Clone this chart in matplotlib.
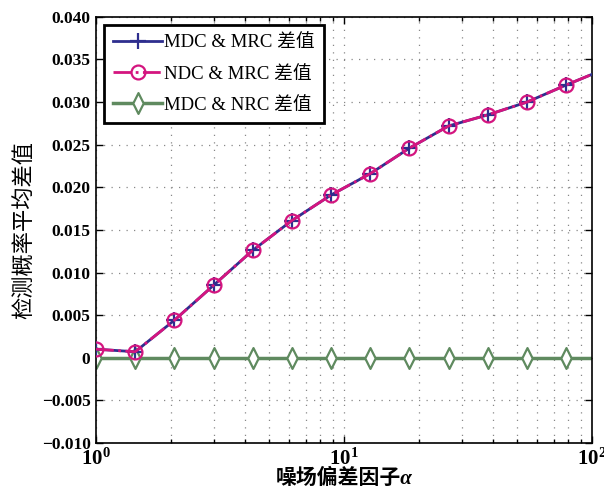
import numpy as np
import matplotlib
matplotlib.use('Agg')
import matplotlib.pyplot as plt
from matplotlib.path import Path
from matplotlib.ticker import FixedLocator, FuncFormatter, LogLocator

plt.rcParams['font.family'] = ['Liberation Serif', 'Noto Sans CJK SC', 'DejaVu Sans']
plt.rcParams['mathtext.fontset'] = 'custom'
plt.rcParams['mathtext.rm'] = 'Liberation Serif:bold'
plt.rcParams['mathtext.it'] = 'Liberation Serif:italic:bold'
plt.rcParams['mathtext.bf'] = 'Liberation Serif:bold'

# noise deviation factor alpha (log axis)
alpha = [1.0, 1.439, 2.07, 2.979, 4.285, 6.166, 8.872, 12.76, 18.37, 26.43, 38.02, 54.7, 78.7, 113.2]
mdc_mrc = [0.0010, 0.0007, 0.0044, 0.0085, 0.0126, 0.0161, 0.0191, 0.0216, 0.0246, 0.0272, 0.0285, 0.0300, 0.0320, 0.0339]
ndc_mrc = [0.0010, 0.0007, 0.0044, 0.0085, 0.0126, 0.0161, 0.0191, 0.0216, 0.0246, 0.0272, 0.0285, 0.0300, 0.0320, 0.0339]
mdc_nrc = [0.0] * 14

labels = ['MDC & MRC 差值', 'NDC & MRC 差值', 'MDC & NRC 差值']
yticks = [-0.010, -0.005, 0, 0.005, 0.010, 0.015, 0.020, 0.025, 0.030, 0.035, 0.040]

# slim diamond like matlab's
diamond = Path([(0, 1), (0.5, 0), (0, -1), (-0.5, 0), (0, 1)],
               [Path.MOVETO, Path.LINETO, Path.LINETO, Path.LINETO, Path.CLOSEPOLY])

fig = plt.figure(figsize=(6.04, 4.96), dpi=100)
ax = fig.add_axes([0.159, 0.107, 0.821, 0.859])

ax.plot(alpha, mdc_mrc, color='#2e2e8e', lw=2, marker='+', ms=11, mew=1.6,
        label=labels[0], zorder=3)
ax.plot(alpha, ndc_mrc, color='#d4157f', lw=2, ls='-.', marker='o', ms=10, mew=1.6,
        mfc='none', label=labels[1], zorder=4)
ax.plot(alpha, mdc_nrc, color='#5f8a5f', lw=2.5, marker=diamond, ms=15, mew=1.6,
        mfc='white', label=labels[2], zorder=2)

ax.set_xscale('log')
ax.set_xlim(1, 100)
ax.set_ylim(-0.010, 0.040)
ax.yaxis.set_major_locator(FixedLocator(yticks))
ax.yaxis.set_major_formatter(FuncFormatter(lambda v, p: '0' if abs(v) < 1e-9 else ('%.3f' % v).replace('-', '\u2212')))
ax.xaxis.set_minor_locator(LogLocator(base=10, subs=np.arange(2, 10)))

ax.grid(True, which='major', ls=(0, (1, 5)), color='#888888', lw=0.9)
ax.grid(True, which='minor', axis='x', ls=(0, (1, 5)), color='#888888', lw=0.9)
ax.tick_params(which='both', direction='in', top=True, right=True, width=1)
ax.tick_params(which='major', length=5, labelsize=12.5, pad=4)
ax.tick_params(axis='x', which='major', labelsize=15, pad=4)
ax.tick_params(which='minor', length=3)
for lab in ax.get_yticklabels() + ax.get_xticklabels():
    lab.set_fontweight('bold')
for s in ax.spines.values():
    s.set_linewidth(1.2)

ax.set_xlabel('噪场偏差因子α', fontsize=15, fontweight='bold', fontstyle='italic', labelpad=-1)
ax.set_ylabel('检测概率平均差值', fontsize=16, labelpad=4)

leg = ax.legend(loc='upper left', bbox_to_anchor=(0.016, 0.981), borderaxespad=0,
                fontsize=13.5, handlelength=2.6, handletextpad=0.1, labelspacing=0.75,
                fancybox=False, framealpha=1, edgecolor='black', borderpad=0.5)
leg.get_frame().set_linewidth(2)

fig.savefig('out.png', dpi=100)
